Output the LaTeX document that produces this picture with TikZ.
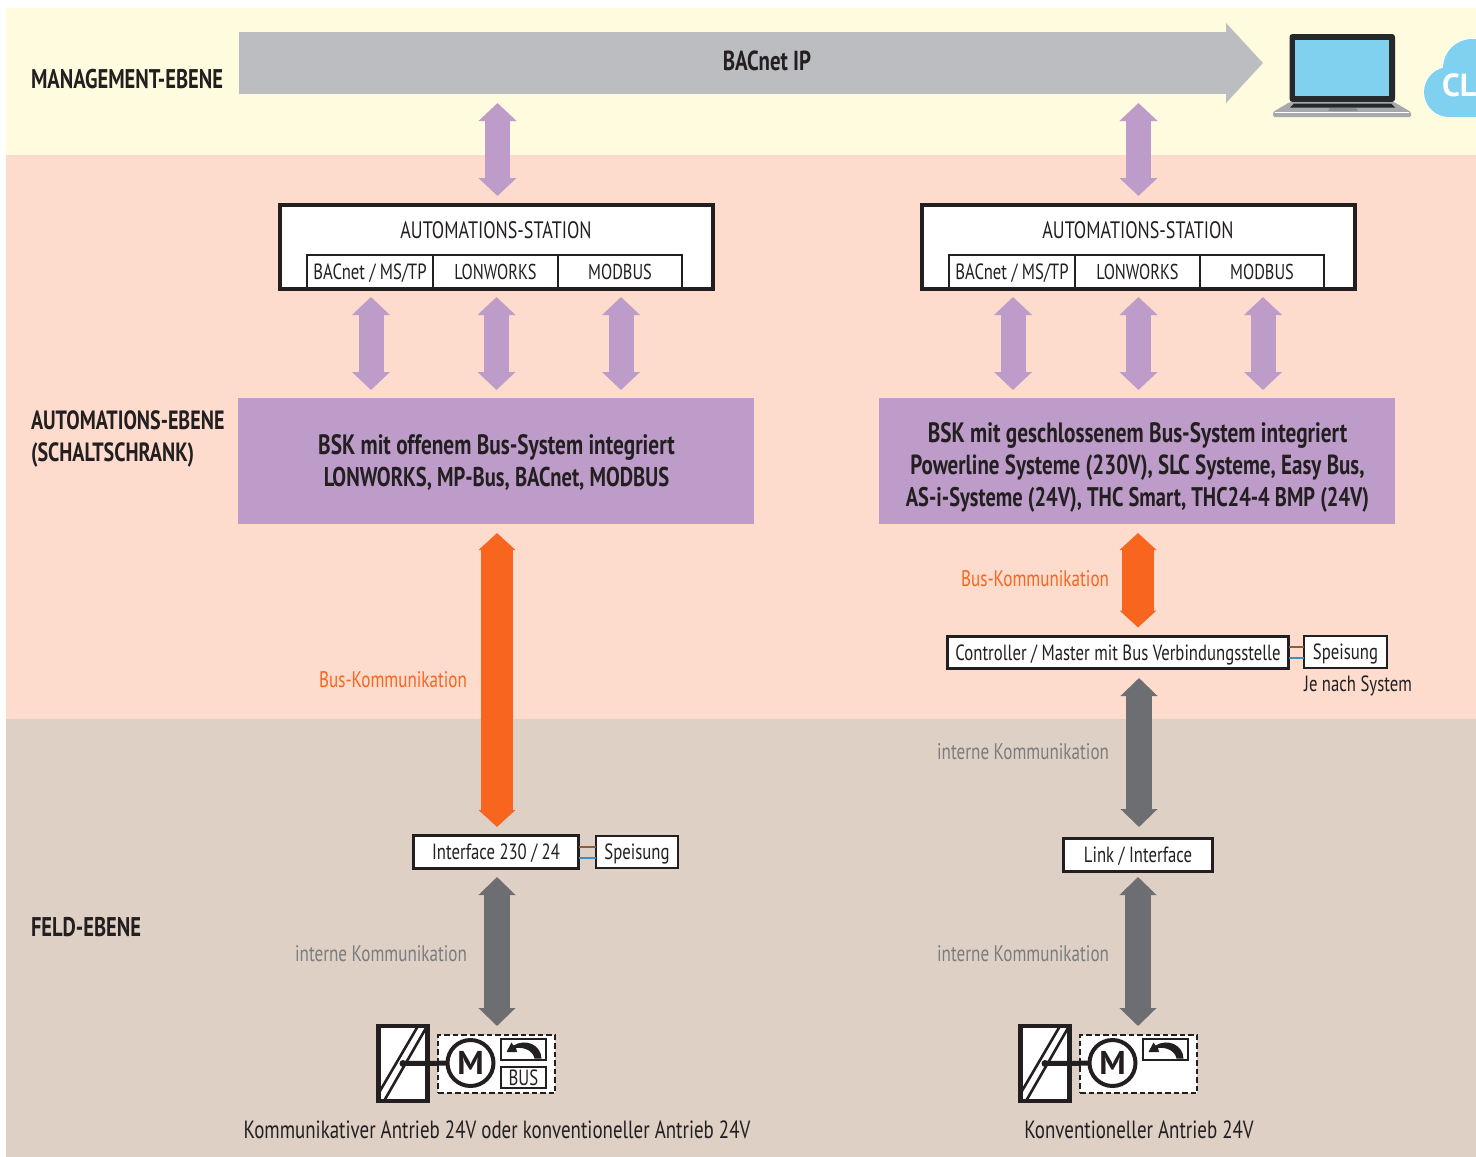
\documentclass[tikz,border=0pt]{standalone}
\usepackage{fontspec}
\usetikzlibrary{arrows.meta,calc}
\setmainfont[FakeStretch=0.76]{PT Sans}
\newfontfamily\widebold{PT Sans Bold}
\newcommand{\bskline}[1]{\fontsize{#1}{32}\selectfont\bfseries}
\definecolor{bgyellow}{HTML}{FFFBDF}
\definecolor{bgpink}{HTML}{FDDCCD}
\definecolor{bgtan}{HTML}{DFD0C5}
\definecolor{ink}{HTML}{231F20}
\definecolor{lilac}{HTML}{BD9CC9}
\definecolor{orangeb}{HTML}{F7651F}
\definecolor{greyb}{HTML}{6D6E71}
\definecolor{greyt}{HTML}{7B7C7F}
\definecolor{silver}{HTML}{BBBDC0}
\definecolor{laptopgrey}{HTML}{A7A9AC}
\definecolor{skyb}{HTML}{7FD1EF}
\definecolor{darkscreen}{HTML}{25292C}
\definecolor{wirebrown}{HTML}{8B5E3C}
\definecolor{wireblue}{HTML}{3A8FC8}
\tikzset{
  every node/.style={text=ink,inner sep=0pt,outer sep=0pt},
  level/.style={font=\fontsize{27}{32}\selectfont\bfseries,anchor=west,align=left},
  levelb/.style={level,font=\fontsize{26.4}{32}\selectfont\bfseries},
  stationbox/.style={draw=ink,line width=4pt,fill=white,minimum width=433pt,minimum height=84pt},
  stationtitle/.style={font=\fontsize{23.8}{26}\selectfont},
  cell/.style={draw=ink,line width=2pt,fill=white,minimum height=33pt,font=\fontsize{21.5}{24}\selectfont,text height=15pt,text depth=0pt},
  cellnarrow/.style={cell,font=\fontsize{22}{24}\selectfont},
  bsk/.style={fill=lilac,minimum width=516pt,minimum height=126pt},
  bsktext/.style={align=center,font=\fontsize{27.5}{32}\selectfont\bfseries},
  strongbox/.style={draw=ink,line width=3pt,fill=white,font=\fontsize{22}{25}\selectfont,text height=15.4pt,text depth=0pt},
  lightbox/.style={draw=ink,line width=2pt,fill=white,font=\fontsize{22}{25}\selectfont,text height=15.4pt,text depth=0pt},
  liliarrow/.style={draw=lilac,line width=25pt,{Triangle[length=18pt,width=37pt]}-{Triangle[length=18pt,width=37pt]}},
  orangearrow/.style={draw=orangeb,line width=32pt,{Triangle[length=17pt,width=36pt]}-{Triangle[length=17pt,width=36pt]}},
  greyarrow/.style={draw=greyb,line width=26pt,{Triangle[length=18pt,width=36pt]}-{Triangle[length=18pt,width=36pt]}},
  busarrow/.style={draw=silver,line width=62pt,-{Triangle[length=37pt,width=78pt]}},
  buslabel/.style={text=orangeb,anchor=east,font=\fontsize{22.5}{25}\selectfont},
  intlabel/.style={text=greyt,anchor=east,font=\fontsize{22.5}{25}\selectfont},
  caption/.style={font=\fontsize{24.9}{27}\selectfont},
  wirea/.style={draw=wirebrown,line width=1.5pt},
  wireb/.style={draw=wireblue,line width=1.5pt},
  dispbox/.style={draw=ink,line width=4.5pt,fill=white,minimum width=49pt,minimum height=75pt},
  dashbox/.style={draw=ink,line width=1.5pt,dash pattern=on 5.5pt off 3pt,fill=white,minimum width=117pt,minimum height=58pt},
  motor/.style={circle,draw=ink,line width=4pt,fill=white,minimum size=46pt,font=\fontsize{33}{33}\widebold},
  smallbox/.style={draw=ink,line width=1.3pt,fill=white,minimum width=45pt,minimum height=21pt,font=\fontsize{22}{22}\selectfont,text height=15pt,text depth=0pt},
  shaft/.style={draw=ink,line width=2.6pt},
  shaftb/.style={draw=ink,line width=5pt},
}
\newcommand{\driveicon}[3]{%
  \begin{scope}[xshift=#2pt]
    \node[dispbox] (#1disp) at (403,1063.5) {};
    \draw[shaft] (377,1096) -- (418,1026);
    \draw[shaft] (384,1101) -- (426,1028);
    \node[dashbox] (#1dash) at (496.5,1064) {};
    \node[smallbox] (#1rot) at (523.5,1049.5) {};
    \fill[ink] (541.5,1058.5) -- (534.5,1058.5) .. controls (533,1051) and (525,1047) .. (516,1048)
      -- (517,1052) -- (506.5,1052) -- (511.5,1042.5) -- (513.5,1045.5) .. controls (526,1038) and (541,1045) .. cycle;
    #3
    \node[motor] (#1motor) at (470.5,1063) {M};
    \fill[ink] (#1disp.center) circle (3.5pt);
    \draw[shaftb] (#1disp.center) -- (#1motor);
  \end{scope}%
}
\begin{document}
\begin{tikzpicture}[x=1pt,y=-1pt]
\useasboundingbox (0,0) rectangle (1476,1157);
\fill[bgyellow] (6,8) rectangle (1476,155);
\fill[bgpink] (6,155) rectangle (1476,719);
\fill[bgtan] (6,719) rectangle (1476,1157);
% levels
\node[level] (lvma) at (31,79) {MANAGEMENT-EBENE};
\node[levelb] (lvau) at (31,439) {AUTOMATIONS-EBENE\\(SCHALTSCHRANK)};
\node[level] (lvfe) at (31,927) {FELD-EBENE};
% laptop
\fill[darkscreen,rounded corners=3pt] (1289.5,34) rectangle (1395,102);
\fill[skyb] (1295,40) rectangle (1389,96);
\fill[laptopgrey,rounded corners=1.5pt] (1290,102) -- (1394,102) -- (1411,112) -- (1411,117) -- (1273,117) -- (1273,112) -- cycle;
\fill[darkscreen] (1294,103.5) -- (1391,103.5) -- (1395,107.5) -- (1290,107.5) -- cycle;
\fill[greyb!80] (1330,108) -- (1356,108) -- (1358,111) -- (1328,111) -- cycle;
\draw[white,line width=1.2pt] (1275,112.8) -- (1409,112.8);
\node[minimum width=138pt,minimum height=84pt] (laptop) at (1342,75) {};
% cloud
\begin{scope}
  \clip (1400,20) rectangle (1476,130);
  \draw[white,line width=2pt] (1449,92) circle (25pt) (1472,68) circle (29pt) (1449,117) -- (1476,117);
  \fill[skyb] (1449,92) circle (25pt) (1472,68) circle (29pt);
  \fill[skyb] (1449,80) rectangle (1476,117);
  \fill[skyb] (1449,75) rectangle (1476,95);
  \node[anchor=west,text=white,font=\fontsize{32}{32}\widebold] (cloud) at (1442,85) {CL};
\end{scope}
% bus
\node[minimum width=987pt,minimum height=62pt] (busbar) at (732.5,63) {};
\draw[busarrow,shorten >=10pt] (busbar.west) -- (laptop.west |- busbar.west);
\node[font=\fontsize{27.5}{30}\selectfont\bfseries] (bacnet) at (767,61) {BACnet IP};
% stations
\node[stationbox] (st1) at (496.5,247) {};
\node[stationtitle] (st1t) at (496,230) {AUTOMATIONS-STATION};
\node[cellnarrow,minimum width=126pt] (a1) at (370,271.5) {BACnet / MS/TP};
\node[cell,minimum width=125pt] (a2) at (495.5,271.5) {LONWORKS};
\node[cell,minimum width=124pt] (a3) at (620,271.5) {MODBUS};
\node[stationbox] (st2) at (1138.5,247) {};
\node[stationtitle] (st2t) at (1138,230) {AUTOMATIONS-STATION};
\node[cellnarrow,minimum width=126pt] (b1) at (1012,271.5) {BACnet / MS/TP};
\node[cell,minimum width=125pt] (b2) at (1137.5,271.5) {LONWORKS};
\node[cell,minimum width=124pt] (b3) at (1262,271.5) {MODBUS};
% bsk
\node[bsk] (bsk1) at (496,461) {};
\node[bsktext] (bsk1t) at (496.5,463) {{\bskline{28}BSK mit offenem Bus-System integriert}\\{\bskline{27.1}LONWORKS, MP-Bus, BACnet, MODBUS}};
\node[bsk] (bsk2) at (1137,461) {};
\node[bsktext] (bsk2t) at (1137.5,467) {{\bskline{28}BSK mit geschlossenem Bus-System integriert}\\{\bskline{27.6}Powerline Systeme (230V), SLC Systeme, Easy Bus,}\\{\bskline{26.9}AS-i-Systeme (24V), THC Smart, THC24-4 BMP (24V)}};
% boxes
\node[strongbox,minimum width=165pt,minimum height=33pt] (iface) at (496,852) {Interface 230 / 24};
\node[lightbox,minimum width=82pt,minimum height=32pt] (speis1) at (637,852) {Speisung};
\node[strongbox,minimum width=341pt,minimum height=32pt] (ctrl) at (1118,652.5) {Controller / Master mit Bus Verbindungsstelle};
\node[lightbox,minimum width=83pt,minimum height=32pt] (speis2) at (1345.5,652) {Speisung};
\node[strongbox,minimum width=149pt,minimum height=33pt] (link) at (1138,855) {Link / Interface};
\node[font=\fontsize{22}{25}\selectfont] (jenach) at (1358,686) {Je nach System};
% wires
\draw[wirea] ([yshift=5pt]iface.east) -- ([yshift=5pt]iface.east -| speis1.west);
\draw[wireb] ([yshift=-6pt]iface.east) -- ([yshift=-6pt]iface.east -| speis1.west);
\draw[wirea] ([yshift=5.5pt]ctrl.east) -- ([yshift=5.5pt]ctrl.east -| speis2.west);
\draw[wireb] ([yshift=-5.5pt]ctrl.east) -- ([yshift=-5.5pt]ctrl.east -| speis2.west);
% drives
\driveicon{l}{0}{\node[smallbox] (lbus) at (523.5,1077.5) {BUS};}
\driveicon{r}{642}{}
% lilac arrows
\draw[liliarrow,shorten <=9pt,shorten >=9pt] ([xshift=1pt]st1.north |- busbar.south) -- ([xshift=1pt]st1.north);
\draw[liliarrow,shorten <=9pt,shorten >=9pt] (st2.north |- busbar.south) -- (st2.north);
\foreach \c/\t in {a1/bsk1,a2/bsk1,a3/bsk1,b1/bsk2,b2/bsk2,b3/bsk2}
  \draw[liliarrow,shorten <=9pt,shorten >=8pt] ([xshift=1pt]\c.south) -- ([xshift=1pt]\c.south |- \t.north);
% orange arrows
\draw[orangearrow,shorten <=9pt,shorten >=8.5pt] ([xshift=1pt]bsk1.south) -- ([xshift=1pt]iface.north);
\draw[orangearrow,shorten <=9pt,shorten >=9pt] ([xshift=1pt]bsk2.south) -- ([xshift=1pt]bsk2.south |- ctrl.north);
% grey arrows
\draw[greyarrow,shorten <=8.5pt,shorten >=9pt] ([xshift=1pt]iface.south) -- ([xshift=1pt]iface.south |- ldash.north);
\draw[greyarrow,shorten <=9.5pt,shorten >=11.5pt] ([xshift=1pt]link.north |- ctrl.south) -- ([xshift=1pt]link.north);
\draw[greyarrow,shorten <=5.5pt,shorten >=9pt] (link.south) -- (link.south |- rdash.north);
% labels
\node[buslabel] (bl1) at (467,680) {Bus-Kommunikation};
\node[buslabel] (bl2) at (1109,579) {Bus-Kommunikation};
\node[intlabel] (il1) at (467,954) {interne Kommunikation};
\node[intlabel] (il2) at (1109,752) {interne Kommunikation};
\node[intlabel] (il3) at (1109,954) {interne Kommunikation};
\node[caption] (cap1) at (497,1130) {Kommunikativer Antrieb 24V oder konventioneller Antrieb 24V};
\node[caption] (cap2) at (1139,1130) {Konventioneller Antrieb 24V};
\end{tikzpicture}
\end{document}
